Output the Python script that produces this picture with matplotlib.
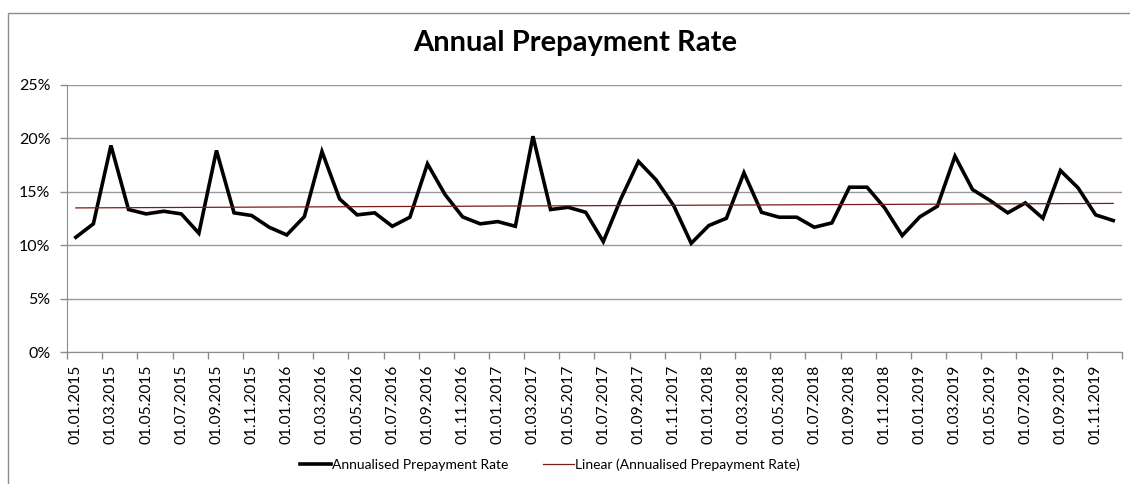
import matplotlib.pyplot as plt
import numpy as np
import pandas as pd
from matplotlib.patches import Rectangle

# monthly dates, 01.01.2015 .. 01.12.2019
fechas = pd.date_range('2015-01-01', periods=60, freq='MS').strftime('%d.%m.%Y').tolist()

# annualised prepayment rate in %
tasa_2015 = [10.74, 12.0, 19.34, 13.34, 12.93, 13.18, 12.93, 11.12, 18.87, 13.03, 12.78, 11.68]
tasa_2016 = [10.96, 12.68, 18.77, 14.34, 12.84, 13.03, 11.77, 12.62, 17.62, 14.74, 12.65, 12.0]
tasa_2017 = [12.21, 11.77, 20.2, 13.34, 13.55, 13.08, 10.34, 14.34, 17.84, 16.12, 13.71, 10.18]
tasa_2018 = [11.84, 12.52, 16.78, 13.08, 12.62, 12.62, 11.68, 12.09, 15.43, 15.43, 13.5, 10.9]
tasa_2019 = [12.65, 13.65, 18.34, 15.21, 14.18, 13.03, 13.96, 12.52, 16.99, 15.37, 12.84, 12.31]

tasa = np.array(tasa_2015 + tasa_2016 + tasa_2017 + tasa_2018 + tasa_2019) / 100
x = np.arange(len(tasa))

# tendencia lineal (como la de Excel)
coef = np.polyfit(x, tasa, 1)
tendencia = np.polyval(coef, x)

plt.rcParams['font.family'] = ['Lato', 'DejaVu Sans']

fig = plt.figure(figsize=(11.3, 4.84), dpi=100)
ax = fig.add_axes([67 / 1130, 1 - 352 / 484, (1122 - 67) / 1130, (352 - 85) / 484])

# marco del grafico
fig.patches.append(Rectangle((8 / 1130, -0.1), 1.2, 1 - 13 / 484 + 0.1, transform=fig.transFigure,
                             fill=False, edgecolor='#8c8c8c', linewidth=1.0))

ax.plot(x, tasa, color='black', linewidth=2.6, solid_joinstyle='miter', label='Annualised Prepayment Rate')
ax.plot(x, tendencia, color='#7b1c1c', linewidth=0.9, label='Linear (Annualised Prepayment Rate)')

ax.set_xlim(-0.5, len(tasa) - 0.5)
ax.set_ylim(0, 0.25)
ax.set_yticks(np.arange(0, 0.26, 0.05))
ax.yaxis.set_major_formatter(plt.FuncFormatter(lambda v, _: f'{v * 100:.0f}%'))
ax.grid(True, axis='y', color='#999999', linewidth=1.0)
ax.set_axisbelow(True)

# ticks entre categorias, etiquetas cada dos meses
ax.set_xticks(np.arange(-0.5, len(tasa), 2))
ax.set_xticklabels([])
ax.set_xticks(x[::2], minor=True)
ax.set_xticklabels(fechas[::2], minor=True, rotation=90, fontsize=11.2)
ax.tick_params(axis='x', which='major', length=5, color='#8c8c8c', width=1)
ax.tick_params(axis='x', which='minor', length=0, pad=9)
ax.tick_params(axis='y', length=5, color='#8c8c8c', width=1, labelsize=11.5, pad=7)

for s in ['top', 'right']:
    ax.spines[s].set_visible(False)
for s in ['left', 'bottom']:
    ax.spines[s].set_color('#8c8c8c')

fig.text(575 / 1130, 1 - 43 / 484, 'Annual Prepayment Rate', ha='center', va='center',
         fontsize=21, fontweight='bold')

fig.legend(loc='center', bbox_to_anchor=(550 / 1130, 1 - 465 / 484), ncol=2, frameon=False,
           fontsize=10, handlelength=2.2, columnspacing=2.5, handletextpad=0.1)

plt.savefig('out.png', dpi=100)
